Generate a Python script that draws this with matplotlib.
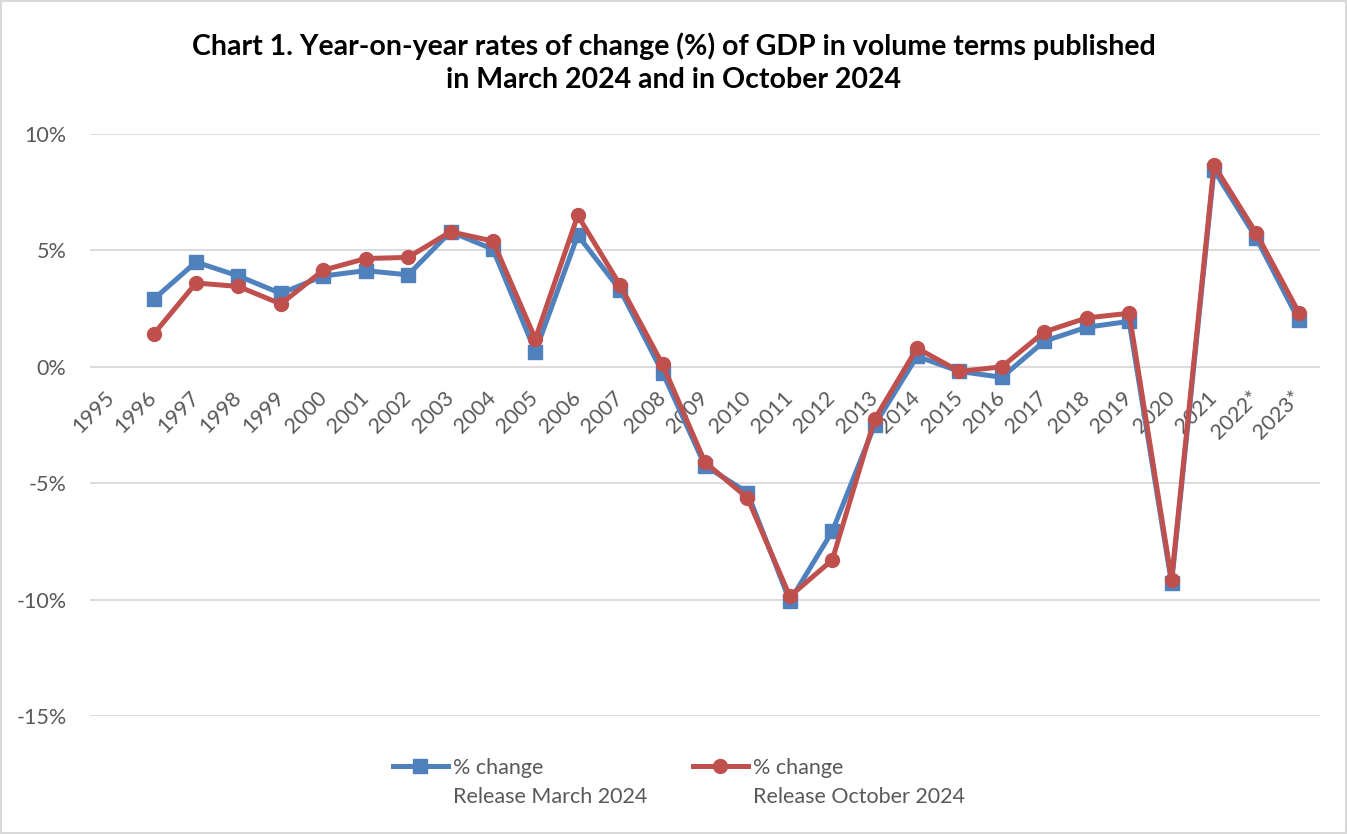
import numpy as np
import matplotlib.pyplot as plt
from matplotlib.patches import Rectangle
from matplotlib.ticker import MultipleLocator, FuncFormatter

plt.rcParams['font.family'] = ['Lato', 'DejaVu Sans']

# data (1995 has no value)
years = ['1995', '1996', '1997', '1998', '1999', '2000', '2001', '2002', '2003',
         '2004', '2005', '2006', '2007', '2008', '2009', '2010', '2011', '2012',
         '2013', '2014', '2015', '2016', '2017', '2018', '2019', '2020', '2021',
         '2022*', '2023*']
march_2024 = [np.nan, 2.9, 4.5, 3.9, 3.15, 3.9, 4.13, 3.95, 5.8, 5.05, 0.65,
              5.65, 3.3, -0.25, -4.25, -5.4, -10.07, -7.07, -2.5, 0.45, -0.2,
              -0.45, 1.1, 1.7, 1.95, -9.3, 8.45, 5.52, 2.0]
october_2024 = [np.nan, 1.4, 3.6, 3.45, 2.7, 4.15, 4.65, 4.7, 5.8, 5.4, 1.2,
                6.5, 3.5, 0.1, -4.1, -5.63, -9.86, -8.3, -2.25, 0.8, -0.2,
                0.0, 1.5, 2.1, 2.3, -9.15, 8.66, 5.73, 2.33]
labels = ['% change', '% change']
second_lines = ['Release March 2024', 'Release October 2024']

blue = '#4F81BD'
red = '#C0504D'
grey_txt = '#595959'
fs = 15.5

W, H = 1347, 834
fig = plt.figure(figsize=(W / 100, H / 100), dpi=100)
ax = fig.add_axes([90 / W, 1 - 716 / H, 1230 / W, (716 - 134) / H])

x = np.arange(len(years))
l1, = ax.plot(x, march_2024, color=blue, lw=3.6, marker='s', markersize=10,
              zorder=3)
l2, = ax.plot(x, october_2024, color=red, lw=3.6, marker='o', markersize=10,
              zorder=4)

ax.set_xlim(-0.5, len(years) - 0.5)
ax.set_ylim(-15, 10)
ax.yaxis.set_major_locator(MultipleLocator(5))
ax.yaxis.set_major_formatter(FuncFormatter(lambda v, p: f'{v:.0f}%'))
ax.yaxis.grid(True, color='#D9D9D9', lw=1.3)
ax.set_axisbelow(True)
for s in ['top', 'right', 'left']:
    ax.spines[s].set_visible(False)
ax.spines['bottom'].set_position(('data', 0))
ax.spines['bottom'].set_visible(False)

ax.set_xticks(x)
ax.set_xticklabels(years, rotation=45, ha='right', va='center',
                   rotation_mode='anchor')
ax.tick_params(axis='x', length=0, pad=20, labelsize=fs, labelcolor=grey_txt)
ax.tick_params(axis='y', length=0, pad=17, labelsize=fs, labelcolor=grey_txt)

fig.text(0.5, 1 - 63 / H,
         'Chart 1. Year-on-year rates of change (%) of GDP in volume terms published\n'
         'in March 2024 and in October 2024',
         ha='center', va='center', fontsize=20.5, fontweight='bold',
         linespacing=1.32, color='black')

legs = []
for line, lab, x0 in zip([l1, l2], labels, [393, 693]):
    leg = fig.legend([line], [lab], loc='center left',
                     bbox_to_anchor=(x0 / W, 1 - 768 / H), frameon=False,
                     fontsize=fs, handlelength=2.55, handletextpad=0.25,
                     borderpad=0, borderaxespad=0, labelcolor=grey_txt)
    legs.append(leg)

fig.canvas.draw()
for leg, s in zip(legs, second_lines):
    bb = leg.get_texts()[0].get_window_extent()
    fig.text(bb.x0 / W, ((bb.y0 + bb.y1) / 2 - 29) / H, s, ha='left',
             va='center', fontsize=fs, color=grey_txt)

fig.patches.append(Rectangle((0.001, 0.001), 0.998, 0.998,
                             transform=fig.transFigure, fill=False,
                             edgecolor='#D9D9D9', lw=1.5))

fig.savefig('out.png', dpi=100)
